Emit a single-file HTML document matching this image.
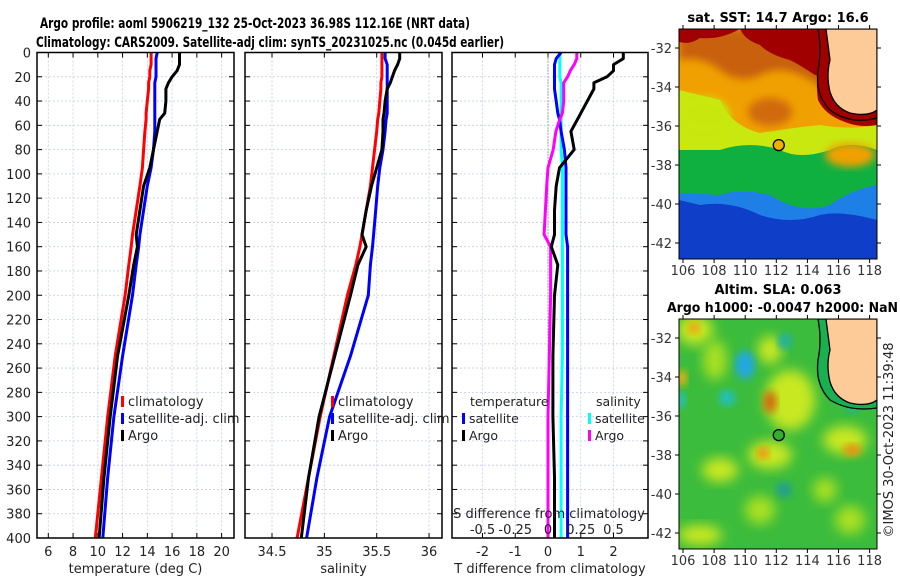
<!DOCTYPE html>
<html><head><meta charset="utf-8">
<style>
html,body{margin:0;padding:0;background:#fff;}
svg{display:block;font-family:"DejaVu Sans","Liberation Sans",sans-serif;}
</style></head>
<body>
<svg id="fig" width="900" height="580" viewBox="0 0 900 580" xmlns="http://www.w3.org/2000/svg">
<defs>
<filter id="blur4" x="-20%" y="-20%" width="140%" height="140%"><feGaussianBlur stdDeviation="4"/></filter>
<filter id="blur6" x="-30%" y="-30%" width="160%" height="160%"><feGaussianBlur stdDeviation="6"/></filter>
<clipPath id="clipSst"><rect x="679" y="29" width="198" height="230"/></clipPath>
<clipPath id="clipSla"><rect x="679" y="319" width="198" height="230"/></clipPath>
</defs>
<text x="255" y="28" font-size="14" font-weight="bold" text-anchor="middle" textLength="430" lengthAdjust="spacingAndGlyphs">Argo profile: aoml 5906219_132 25-Oct-2023 36.98S 112.16E (NRT data)</text>
<text x="270" y="47" font-size="14" font-weight="bold" text-anchor="middle" textLength="468" lengthAdjust="spacingAndGlyphs">Climatology: CARS2009. Satellite-adj clim: synTS_20231025.nc (0.045d earlier)</text>
<g id="panels"></g>
<g id="maps"></g>
<text transform="translate(893,440) rotate(-90)" font-size="13" text-anchor="middle" fill="#222">©IMOS 30-Oct-2023 11:39:48</text>
</svg>
<script>
// ---- data ----
const depths = [0,5,10,15,20,25,30,40,50,55,65,80,95,110,130,150,160,175,200,250,300,350,400];
const tempArgo = [16.6,16.6,16.6,16.4,16.0,15.7,15.5,15.5,15.4,15.0,14.8,14.5,14.2,13.7,13.4,13.1,13.2,12.9,12.5,11.6,11.0,10.5,10.1];
const tempClim = [14.3,14.3,14.3,14.2,14.2,14.1,14.1,14.0,13.9,13.9,13.8,13.7,13.6,13.4,13.1,12.8,12.7,12.5,12.2,11.4,10.8,10.3,9.8];
const tempSat  = [14.8,14.7,14.7,14.7,14.7,14.6,14.6,14.6,14.6,14.6,14.6,14.5,14.3,14.0,13.7,13.4,13.3,13.1,12.8,12.0,11.3,10.8,10.4];
const salArgo = [35.72,35.72,35.70,35.67,35.65,35.63,35.60,35.58,35.57,35.56,35.56,35.55,35.50,35.45,35.40,35.36,35.40,35.32,35.25,35.10,34.95,34.85,34.78];
const salClim = [35.55,35.55,35.55,35.55,35.55,35.54,35.54,35.53,35.52,35.51,35.50,35.48,35.46,35.44,35.40,35.36,35.34,35.30,35.22,35.09,34.96,34.85,34.74];
const salSat  = [35.58,35.58,35.60,35.60,35.60,35.60,35.60,35.60,35.60,35.59,35.58,35.56,35.53,35.51,35.49,35.47,35.46,35.44,35.42,35.25,35.05,34.93,34.83];
const dTArgo = [2.3,2.3,2.0,2.0,1.8,1.4,1.4,1.2,1.0,0.9,0.7,0.8,0.35,0.25,0.2,0.2,0.1,0.3,0.2,0.15,0.15,0.2,0.2];
const dTSat  = [0.4,0.25,0.2,0.2,0.2,0.2,0.2,0.25,0.3,0.35,0.4,0.5,0.55,0.55,0.55,0.55,0.6,0.6,0.6,0.6,0.6,0.6,0.6];
const dSArgo = [0.22,0.22,0.20,0.17,0.15,0.12,0.12,0.12,0.11,0.09,0.06,0.04,0.0,-0.01,-0.02,-0.03,0.02,0.02,0.02,0.01,0.0,0.0,0.0];
const dSSat  = [0.09,0.09,0.09,0.09,0.09,0.10,0.10,0.10,0.10,0.10,0.10,0.10,0.11,0.11,0.11,0.11,0.11,0.11,0.11,0.11,0.10,0.10,0.10];
const depthTicks = [0,20,40,60,80,100,120,140,160,180,200,220,240,260,280,300,320,340,360,380,400];
const tempTicks = [6,8,10,12,14,16,18,20];
const salTicks = [34.5,35,35.5,36];
const dTTicks = [-2,-1,0,1,2];
const dSTickVals = [-0.5,-0.25,0,0.25,0.5];
const dSTickLabels = ["-0.5","-0.25","0","0.25","0.5"];
const lonTicks = [106,108,110,112,114,116,118];
const latTicks = [-32,-34,-36,-38,-40,-42];

const NS="http://www.w3.org/2000/svg";
function mk(tag,attrs,parent){const e=document.createElementNS(NS,tag);for(const k in attrs)e.setAttribute(k,attrs[k]);if(parent)parent.appendChild(e);return e;}
const yTop=52.5, yBot=538;
function yD(d){return yTop+(d/400)*(yBot-yTop);}
const P=document.getElementById('panels');

function panel(x0,x1,xs,ticks,labels,name,xlabel){
  const g=mk('g',{},P);
  
  
  ticks.forEach(t=>{const x=xs(t);mk('line',{x1:x,x2:x,y1:yTop,y2:yBot,stroke:'#c4cbe8','stroke-width':0.8,'stroke-dasharray':'2,2'},g);
    mk('line',{x1:x,x2:x,y1:yTop,y2:yTop+5,stroke:'#000'},g);mk('line',{x1:x,x2:x,y1:yBot,y2:yBot-5,stroke:'#000'},g);});
  depthTicks.forEach(d=>{const y=yD(d);mk('line',{x1:x0,x2:x1,y1:y,y2:y,stroke:'#c4cbe8','stroke-width':0.8,'stroke-dasharray':'2,2'},g);
    mk('line',{x1:x0,x2:x0+5,y1:y,y2:y,stroke:'#000'},g);mk('line',{x1:x1,x2:x1-5,y1:y,y2:y,stroke:'#000'},g);});
  if(labels){ticks.forEach((t,i)=>{const tx=mk('text',{x:xs(t),y:556,'font-size':13,'text-anchor':'middle',fill:'#222'},g);tx.textContent=labels[i];
    
    });}
  const xl=mk('text',{x:(x0+x1)/2,y:573,'font-size':13,'text-anchor':'middle',fill:'#222'},g);xl.textContent=xlabel;
  
  
  return g;
}
function line(g,xs,vals,color,name,w){
  const pts=vals.map((v,i)=>xs(v).toFixed(1)+','+yD(depths[i]).toFixed(1)).join(' ');
  const p=mk('polyline',{points:pts,fill:'none',stroke:color,'stroke-width':w||3,'stroke-linejoin':'round'},g);
  
  
}
function frame(g,x0,x1){mk('rect',{x:x0,y:yTop,width:x1-x0,height:yBot-yTop,fill:'none',stroke:'#000','stroke-width':1.5},g);}
function legend(g,x,y,items,fs){items.forEach((it,i)=>{const yy=y+i*17;
  if(it.c){mk('rect',{x:x,y:yy-10,width:3,height:11,fill:it.c},g);}
  const t=mk('text',{x:x+(it.c?7:8),y:yy,'font-size':fs||13,fill:'#222'},g);t.textContent=it.t;
  
  });}

depthTicks.forEach(d=>{const t=mk('text',{x:31,y:yD(d)+5,'font-size':13,'text-anchor':'end',fill:'#222'},P);t.textContent=d;
  
  });

const xT=v=>48.3+(v-6)*12.38;
const g1=panel(37,234,xT,tempTicks,tempTicks.map(String),'temperature-panel','temperature (deg C)');
line(g1,xT,tempClim,'#ff0000','temp-climatology-line');
line(g1,xT,tempSat,'#0000ff','temp-satellite-line');
line(g1,xT,tempArgo,'#000000','temp-argo-line');
frame(g1,37,234);
legend(g1,121,406,[{c:'#ff0000',t:'climatology'},{c:'#0000ff',t:'satellite-adj. clim'},{c:'#000',t:'Argo'}]);

const xS=v=>272+(v-34.5)*104.7;
const g2=panel(245,442,xS,salTicks,['34.5','35','35.5','36'],'salinity-panel','salinity');
line(g2,xS,salClim,'#ff0000','sal-climatology-line');
line(g2,xS,salSat,'#0000ff','sal-satellite-line');
line(g2,xS,salArgo,'#000000','sal-argo-line');
frame(g2,245,442);
legend(g2,331,406,[{c:'#ff0000',t:'climatology'},{c:'#0000ff',t:'satellite-adj. clim'},{c:'#000',t:'Argo'}]);

const xDT=v=>548+v*32.75;
const xDS=v=>548+v*4*32.75;
const g3=panel(452,648,xDT,dTTicks,null,'difference-panel','T difference from climatology');
dTTicks.forEach(t=>{const tx=mk('text',{x:xDT(t),y:556,'font-size':13,'text-anchor':'middle',fill:'#222'},g3);tx.textContent=t;
  
  });
mk('line',{x1:xDT(0),x2:xDT(0),y1:yTop,y2:yBot,stroke:'#666','stroke-width':1,'stroke-dasharray':'1,2'},g3);
line(g3,xDS,dSSat,'#00ffff','sdiff-satellite-line');
line(g3,xDT,dTSat,'#0000ff','tdiff-satellite-line');
line(g3,xDS,dSArgo,'#ff00ff','sdiff-argo-line');
line(g3,xDT,dTArgo,'#000000','tdiff-argo-line');
frame(g3,452,648);
const sl=mk('text',{x:549,y:518,'font-size':13,'text-anchor':'middle',fill:'#222'},g3);sl.textContent='S difference from climatology';


dSTickVals.forEach((t,i)=>{const tx=mk('text',{x:xDS(t),y:534,'font-size':13,'text-anchor':'middle',fill:'#222'},g3);tx.textContent=dSTickLabels[i];
  
  });
legend(g3,462,406,[{t:'temperature'},{c:'#0000ff',t:'satellite'},{c:'#000',t:'Argo'}],12.5);
legend(g3,588,406,[{t:'salinity'},{c:'#00ffff',t:'satellite'},{c:'#ff00ff',t:'Argo'}],12.5);

// ---- maps ----
const M=document.getElementById('maps');
const xLon=l=>683+(l-106)*15.55;
function yLat(y0,lat){return y0+(-32-lat)*19.5;}
function mapAxes(g,top,bot,y32){
  lonTicks.forEach(l=>{const x=xLon(l);
    mk('line',{x1:x,x2:x,y1:top-4,y2:top,stroke:'#000'},g);mk('line',{x1:x,x2:x,y1:bot,y2:bot+4,stroke:'#000'},g);
    const t=mk('text',{x:x,y:bot+16,'font-size':13,'text-anchor':'middle',fill:'#333'},g);t.textContent=l;
    
    });
  latTicks.forEach(la=>{const y=yLat(y32,la);
    mk('line',{x1:675,x2:679,y1:y,y2:y,stroke:'#000'},g);mk('line',{x1:877,x2:881,y1:y,y2:y,stroke:'#000'},g);
    const t=mk('text',{x:672,y:y+5,'font-size':13,'text-anchor':'end',fill:'#333'},g);t.textContent=la;
    
    });
}
const gs=mk('g',{},M);


const st=mk('text',{x:778,y:22,'font-size':13,'font-weight':'bold','text-anchor':'middle'},gs);st.textContent='sat. SST: 14.7 Argo: 16.6';


const cs=mk('g',{'clip-path':'url(#clipSst)'},gs);
mk('rect',{x:679,y:29,width:198,height:230,fill:'#0f3ec8'},cs);
mk('path',{d:'M679,29 H877 V220 Q840,210 820,215 Q790,225 760,215 Q730,200 700,205 L679,200 Z',fill:'#1e7fe6'},cs);
mk('path',{d:'M679,29 H877 V185 Q850,190 830,205 Q800,215 770,195 Q740,188 720,195 L679,193 Z',fill:'#10b040'},cs);
mk('path',{d:'M679,29 H877 V150 Q850,140 830,150 Q800,160 780,150 Q750,140 720,150 L679,150 Z',fill:'#c8e810'},cs);
mk('path',{d:'M679,29 H877 V125 Q850,130 820,125 Q790,128 760,133 Q730,125 720,100 L679,90 Z',fill:'#f0a000'},cs);
mk('ellipse',{cx:705,cy:115,rx:25,ry:18,fill:'#c8e810',filter:'url(#blur4)'},cs);
mk('ellipse',{cx:770,cy:112,rx:22,ry:14,fill:'#d06a10',filter:'url(#blur4)'},cs);
mk('ellipse',{cx:850,cy:155,rx:25,ry:12,fill:'#f0a000',filter:'url(#blur4)'},cs);
mk('path',{d:'M679,29 H830 V95 Q815,80 800,75 Q780,65 760,75 Q740,85 720,70 Q700,55 679,60 Z',fill:'#c86010',filter:'url(#blur4)'},cs);
mk('path',{d:'M740,29 H840 V90 Q830,80 815,75 Q800,65 790,60 Q770,55 760,45 Q745,40 740,29 Z',fill:'#a00000'},cs);
mk('path',{d:'M679,29 H740 Q720,40 700,38 Q690,45 679,42 Z',fill:'#a00000'},cs);
mk('path',{d:'M818,29 H877 V125 Q860,128 845,122 Q825,115 818,100 Q815,80 820,60 Z',fill:'#a00000'},cs);
mk('path',{d:'M826,29 H877 V110 Q868,117 850,113 Q835,108 830,92 Q826,75 830,60 Q828,45 826,29 Z',fill:'#fccb98',stroke:'#000','stroke-width':1.3},cs);
mk('path',{d:'M818,29 Q822,50 818,70 Q815,95 830,110 Q850,125 877,118',fill:'none',stroke:'#000','stroke-width':1.3},cs);
mk('rect',{x:679,y:29,width:198,height:230,fill:'none',stroke:'#000','stroke-width':1},gs);
const ms=mk('circle',{cx:xLon(112.16),cy:yLat(48,-36.98),r:5.5,fill:'#f0b000',stroke:'#000','stroke-width':1.3},gs);


mapAxes(gs,29,259,48);

const ga=mk('g',{},M);


const a1=mk('text',{x:778,y:294,'font-size':13,'font-weight':'bold','text-anchor':'middle'},ga);a1.textContent='Altim. SLA: 0.063';


const a2=mk('text',{x:667,y:312,'font-size':13,'font-weight':'bold',textLength:231,lengthAdjust:'spacingAndGlyphs'},ga);a2.textContent='Argo h1000: -0.0047 h2000: NaN';


const ca=mk('g',{'clip-path':'url(#clipSla)'},ga);
mk('rect',{x:679,y:319,width:198,height:230,fill:'#3cbc3c'},ca);
[[695,330,18,15,'#c8e820'],[715,360,12,20,'#a8e020'],[790,400,25,30,'#c8e820'],[770,350,12,14,'#c8e820'],[845,440,22,14,'#c8e820'],[770,455,22,14,'#c8e820'],[720,470,18,12,'#c8e820'],[700,535,22,10,'#c8e820'],[760,510,15,14,'#a8e020'],[850,520,15,14,'#a8e020'],[825,490,12,12,'#a8e020']].forEach(b=>mk('ellipse',{cx:b[0],cy:b[1],rx:b[2],ry:b[3],fill:b[4],filter:'url(#blur6)'},ca));
[[745,365,10,14,'#20a8e0'],[727,398,8,8,'#20c0c0'],[785,341,7,8,'#20b0a0'],[681,400,5,8,'#20c0c0'],[784,490,8,8,'#20a090'],[852,405,6,8,'#20b0a0']].forEach(b=>mk('ellipse',{cx:b[0],cy:b[1],rx:b[2],ry:b[3],fill:b[4],filter:'url(#blur4)'},ca));
[[770,402,7,11,'#d07010'],[763,453,6,6,'#f09010'],[852,450,9,6,'#f09010'],[694,328,6,6,'#f0a010'],[682,378,5,8,'#f0b010']].forEach(b=>mk('ellipse',{cx:b[0],cy:b[1],rx:b[2],ry:b[3],fill:b[4],filter:'url(#blur4)'},ca));
mk('path',{d:'M818,319 Q822,340 818,360 Q815,385 830,400 Q850,412 877,408 V319 Z',fill:'#18b050',stroke:'#000','stroke-width':1.3},ca);
mk('path',{d:'M826,319 H877 V400 Q868,407 850,403 Q835,398 830,382 Q826,365 830,350 Q828,335 826,319 Z',fill:'#fccb98',stroke:'#000','stroke-width':1.3},ca);
mk('rect',{x:679,y:319,width:198,height:230,fill:'none',stroke:'#000','stroke-width':1},ga);
const ma=mk('circle',{cx:xLon(112.16),cy:yLat(338,-36.98),r:5.5,fill:'#30b030',stroke:'#000','stroke-width':1.3},ga);


mapAxes(ga,319,549,338);
</script>
</body></html>
